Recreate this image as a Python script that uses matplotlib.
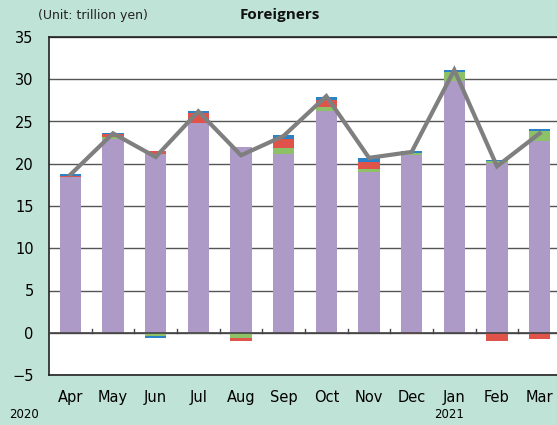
import matplotlib
matplotlib.use("Agg")
import matplotlib.pyplot as plt
import numpy as np

months = ["Apr", "May", "Jun", "Jul", "Aug", "Sep", "Oct", "Nov", "Dec", "Jan", "Feb", "Mar"]
years = {"Apr": "2020", "Jan": "2021"}

# positive components (stack order: purple, green, red, blue)
purple = [18.4, 22.9, 21.15, 24.8, 21.95, 21.2, 26.3, 19.05, 21.0, 29.8, 20.1, 22.7]
green_pos = [0.0, 0.25, 0.0, 0.0, 0.0, 0.7, 0.4, 0.35, 0.25, 1.0, 0.2, 1.15]
red_pos = [0.2, 0.4, 0.35, 1.2, 0.0, 1.0, 0.8, 0.85, 0.0, 0.0, 0.0, 0.0]
blue_pos = [0.15, 0.1, 0.0, 0.3, 0.05, 0.45, 0.4, 0.4, 0.3, 0.25, 0.2, 0.25]
# negative components
green_neg = [0.0, 0.0, -0.4, -0.2, -0.6, 0.0, 0.0, 0.0, 0.0, 0.0, 0.0, 0.0]
blue_neg = [0.0, 0.0, -0.2, 0.0, 0.0, 0.0, 0.0, 0.0, 0.0, 0.0, 0.0, 0.0]
red_neg = [0.0, 0.0, 0.0, 0.0, -0.35, 0.0, 0.0, 0.0, -0.15, 0.0, -0.95, -0.7]
# net line
total = [18.7, 23.6, 20.8, 26.2, 21.0, 23.3, 28.0, 20.7, 21.4, 31.1, 19.7, 23.6]

yticks = [-5, 0, 5, 10, 15, 20, 25, 30, 35]

C_PURPLE = "#ad9ac6"
C_GREEN = "#8cc167"
C_RED = "#e0534b"
C_BLUE = "#2b82c6"
C_LINE = "#7f7f7f"
BG = "#c0e3d7"

W, H = 557, 425
fig = plt.figure(figsize=(W / 100, H / 100), dpi=100, facecolor=BG)
ax = fig.add_axes([49 / W, 50 / H, 512 / W, 338 / H])
ax.set_facecolor("white")

x = np.arange(len(months))
w = 0.5
p = np.array(purple)
g = np.array(green_pos)
r = np.array(red_pos)
b = np.array(blue_pos)
ax.bar(x, p, w, color=C_PURPLE, zorder=3)
ax.bar(x, g, w, bottom=p, color=C_GREEN, zorder=3)
ax.bar(x, r, w, bottom=p + g, color=C_RED, zorder=3)
ax.bar(x, b, w, bottom=p + g + r, color=C_BLUE, zorder=3)
gn = np.array(green_neg)
bn = np.array(blue_neg)
rn = np.array(red_neg)
ax.bar(x, gn, w, color=C_GREEN, zorder=3)
ax.bar(x, bn, w, bottom=gn, color=C_BLUE, zorder=3)
ax.bar(x, rn, w, bottom=gn + bn, color=C_RED, zorder=3)

ax.plot(x, total, color=C_LINE, lw=3, zorder=5, solid_joinstyle="miter")

ax.set_ylim(-5, 35)
ax.set_xlim(-0.5, len(months) - 0.5)
ax.set_yticks(yticks)
ax.yaxis.grid(True, color="#555555", lw=1.0, zorder=1)
ax.set_axisbelow(True)
ax.axhline(0, color="#444444", lw=1.2, zorder=4)
# small category-boundary ticks on the zero line
for xb in x[:-1] + 0.5:
    ax.plot([xb, xb], [0, 0.4], color="#444444", lw=1, zorder=4)

ax.tick_params(axis="y", length=0, pad=11, labelsize=10.5)
ax.tick_params(axis="x", length=0, pad=11, labelsize=10.5)
ax.set_xticks(x)
ax.set_xticklabels(months)
for s in ax.spines.values():
    s.set_color("#222222")
    s.set_linewidth(1.2)

# year labels below the month labels
for i, m in enumerate(months):
    if m in years:
        xpix = 49 + (i + 0.5) * 512 / len(months)
        if m == "Apr":
            xpix = 24
        else:
            xpix -= 5
        fig.text(xpix / W, 1 - 415 / H, years[m], ha="center", va="center", fontsize=8.5)

fig.text(38 / W, 1 - 15 / H, "(Unit: trillion yen)", fontsize=9, ha="left", va="center",
         color="#222222")
fig.text(280 / W, 1 - 15 / H, "Foreigners", fontsize=11, fontweight="bold", ha="center",
         va="center", family="Open Sans", color="#111111")

fig.savefig("out.png", dpi=100, facecolor=BG)
